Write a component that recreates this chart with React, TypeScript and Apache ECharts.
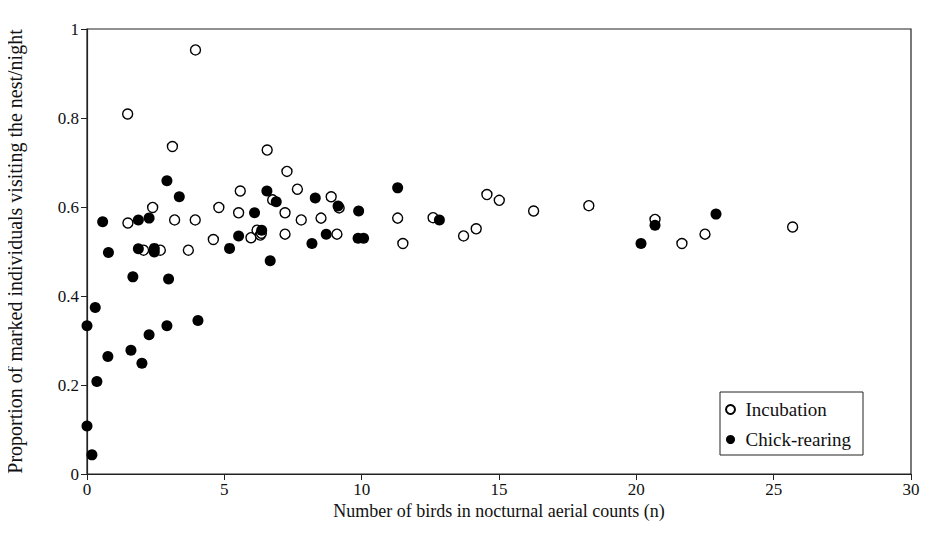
import React, { useEffect, useRef } from "react";
import * as echarts from "echarts";

const FONT = "'Liberation Serif', 'Times New Roman', Times, serif";

const xTicks = [0, 5, 10, 15, 20, 25, 30];
const yTicks = [0, 0.2, 0.4, 0.6, 0.8, 1];

const incubationX = [1.48, 3.95, 3.11, 6.56, 7.28, 5.58, 7.66, 1.49, 2.39, 3.19, 3.94, 2.06, 2.67, 3.69, 4.80, 5.52, 4.60, 5.97, 6.19, 6.31, 6.35, 7.21, 7.21, 7.80, 6.76, 8.89, 9.18, 8.52, 9.10, 11.31, 11.50, 12.60, 13.71, 14.17, 14.56, 15.01, 16.26, 18.27, 20.68, 21.66, 22.50, 25.69];
const incubationY = [0.809, 0.953, 0.736, 0.728, 0.680, 0.636, 0.640, 0.564, 0.599, 0.571, 0.571, 0.503, 0.503, 0.503, 0.599, 0.587, 0.527, 0.531, 0.548, 0.537, 0.541, 0.587, 0.539, 0.571, 0.616, 0.623, 0.598, 0.575, 0.539, 0.575, 0.518, 0.576, 0.535, 0.551, 0.628, 0.615, 0.591, 0.603, 0.572, 0.518, 0.539, 0.555];

const chickX = [0.0, 0.18, 0.0, 0.30, 0.36, 0.76, 1.60, 2.00, 2.26, 2.91, 4.04, 1.67, 2.97, 0.57, 0.78, 1.87, 2.26, 1.87, 2.45, 2.45, 2.91, 3.36, 6.55, 6.89, 6.10, 6.36, 5.52, 5.19, 6.67, 8.19, 8.31, 9.14, 9.89, 8.71, 9.87, 10.07, 11.31, 12.83, 20.17, 20.68, 22.90];
const chickY = [0.108, 0.043, 0.333, 0.374, 0.208, 0.264, 0.278, 0.249, 0.313, 0.333, 0.345, 0.443, 0.438, 0.567, 0.498, 0.571, 0.575, 0.506, 0.507, 0.499, 0.659, 0.623, 0.636, 0.612, 0.587, 0.548, 0.535, 0.507, 0.479, 0.518, 0.620, 0.602, 0.591, 0.539, 0.530, 0.530, 0.643, 0.571, 0.518, 0.559, 0.584];

const seriesNames = ["Incubation", "Chick-rearing"];

export default function App() {
  const ref = useRef<HTMLDivElement>(null);
  useEffect(() => {
    if (!ref.current) return;
    const chart = echarts.init(ref.current, null, { renderer: "svg" });
    const incData = incubationX.map((x, i) => [x, incubationY[i]]);
    const chkData = chickX.map((x, i) => [x, chickY[i]]);
    chart.setOption({
      animation: false,
      backgroundColor: "#fff",
      textStyle: { fontFamily: FONT },
      grid: {
        left: 87,
        right: 19,
        top: 29,
        bottom: 63,
        outerBoundsMode: "none",
        containLabel: false,
        show: true,
        borderColor: "#222",
        borderWidth: 1.2,
        backgroundColor: "transparent",
      },
      legend: {
        orient: "vertical",
        left: 720,
        top: 392,
        data: seriesNames,
        borderColor: "#222",
        borderWidth: 1,
        padding: [8, 12, 6, 5],
        itemGap: 11,
        itemWidth: 20,
        itemHeight: 9,
        textStyle: { fontFamily: FONT, fontSize: 19, color: "#111" },
      },
      xAxis: {
        type: "value",
        min: xTicks[0],
        max: xTicks[xTicks.length - 1],
        interval: 5,
        name: "Number of birds in nocturnal aerial counts (n)",
        nameLocation: "middle",
        nameGap: 28,
        nameMoveOverlap: false,
        nameTextStyle: { fontFamily: FONT, fontSize: 18, color: "#111" },
        axisLine: { show: true, onZero: false, lineStyle: { color: "#222", width: 1.2 } },
        axisTick: { show: true, inside: false, length: 6, lineStyle: { color: "#222" } },
        axisLabel: { fontFamily: FONT, fontSize: 17, color: "#111", margin: 7 },
        splitLine: { show: false },
      },
      yAxis: {
        type: "value",
        min: yTicks[0],
        max: yTicks[yTicks.length - 1],
        interval: 0.2,
        name: "Proportion of marked individuals visiting the nest/night",
        nameLocation: "middle",
        nameGap: 62,
        nameMoveOverlap: false,
        nameTextStyle: { fontFamily: FONT, fontSize: 20, color: "#111" },
        axisLine: { show: true, onZero: false, lineStyle: { color: "#222", width: 1.2 } },
        axisTick: { show: true, inside: false, length: 6, lineStyle: { color: "#222" } },
        axisLabel: {
          fontFamily: FONT,
          fontSize: 17,
          color: "#111",
          margin: 8,
          formatter: (v: number) => (v === 0 ? "0" : v === 1 ? "1" : v.toFixed(1)),
        },
        splitLine: { show: false },
      },
      series: [
        {
          name: seriesNames[0],
          type: "scatter",
          data: incData,
          symbol: "circle",
          symbolSize: 10,
          itemStyle: { color: "#fff", borderColor: "#000", borderWidth: 1.4, opacity: 1 },
          z: 2,
        },
        {
          name: seriesNames[1],
          type: "scatter",
          data: chkData,
          symbol: "circle",
          symbolSize: 11,
          itemStyle: { color: "#000", borderColor: "#000", borderWidth: 0, opacity: 1 },
          z: 3,
        },
      ],
    });
    return () => chart.dispose();
  }, []);
  return <div ref={ref} style={{ width: 930, height: 537, margin: -8 }} />;
}
